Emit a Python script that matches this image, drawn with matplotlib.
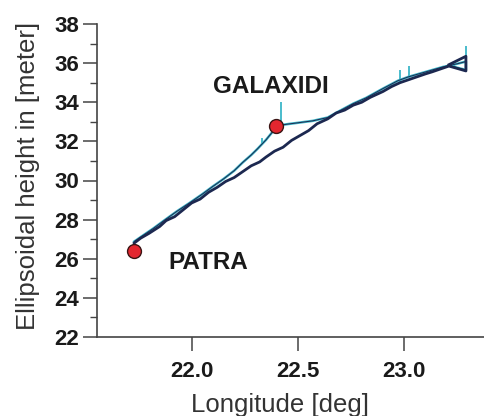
import numpy as np
import matplotlib
matplotlib.use("Agg")
import matplotlib.pyplot as plt
from matplotlib.ticker import MultipleLocator

plt.rcParams['font.family'] = ['Liberation Sans', 'DejaVu Sans']

# main track (dark), Patra straight to the east end, with the small loop at the end
track_a_lon = [21.73, 21.76, 21.80, 21.85, 21.88, 21.92, 21.96, 22.00, 22.04, 22.08,
               22.12, 22.16, 22.20, 22.24, 22.28, 22.32, 22.35, 22.39, 22.43, 22.47,
               22.51, 22.55, 22.59, 22.64, 22.68, 22.72, 22.76, 22.80, 22.84, 22.90,
               22.94, 22.98, 23.02, 23.06, 23.10, 23.13, 23.17, 23.21, 23.29, 23.29, 23.21]
track_a_h = [26.80, 27.05, 27.30, 27.65, 27.95, 28.15, 28.50, 28.85, 29.05, 29.40,
             29.65, 29.95, 30.15, 30.45, 30.75, 30.95, 31.20, 31.50, 31.70, 32.05,
             32.30, 32.55, 32.90, 33.15, 33.45, 33.60, 33.85, 34.00, 34.25, 34.55,
             34.80, 35.00, 35.15, 35.30, 35.45, 35.55, 35.70, 35.85, 35.60, 36.35, 35.92]

# second track (cyan), Patra -> Galaxidi -> joins main track
track_b_lon = [21.73, 21.77, 21.82, 21.87, 21.93, 21.99, 22.05, 22.10, 22.15, 22.20,
               22.24, 22.28, 22.31, 22.35, 22.38, 22.40, 22.45, 22.50, 22.57, 22.64,
               22.70, 22.76, 22.82, 22.90, 22.97, 23.02, 23.10, 23.18, 23.25, 23.29,
               23.29, 23.22]
track_b_h = [26.88, 27.18, 27.55, 27.95, 28.42, 28.85, 29.30, 29.70, 30.08, 30.50,
             30.92, 31.30, 31.62, 32.08, 32.48, 32.80, 32.88, 32.95, 33.05, 33.22,
             33.58, 33.93, 34.22, 34.70, 35.10, 35.30, 35.55, 35.80, 35.97, 36.08,
             35.65, 35.85]

# short spikes in the cyan track
spike_lon = [22.42, 22.98, 23.02, 23.29, 22.33]
spike_lo = [32.85, 35.05, 35.25, 36.00, 31.85]
spike_hi = [34.00, 35.65, 35.85, 36.85, 32.15]

stations = ['PATRA', 'GALAXIDI']
station_lon = [21.73, 22.395]
station_h = [26.41, 32.79]
label_lon = [21.89, 22.10]
label_h = [25.83, 34.79]

navy = '#1c2850'
cyan = '#3cb6c8'

fig = plt.figure(figsize=(4.84, 4.16), dpi=100)
ax = fig.add_axes([97 / 484, 79 / 416, 387 / 484, 313 / 416])

ax.plot(track_b_lon, track_b_h, color=cyan, lw=1.8, zorder=2)
ax.vlines(spike_lon, spike_lo, spike_hi, color=cyan, lw=1.3, zorder=2)
ax.plot(track_a_lon, track_a_h, color=navy, lw=2.0, zorder=3)
ax.plot(track_b_lon, track_b_h, color=navy, lw=0.7, zorder=3)
ax.plot(station_lon, station_h, 'o', ms=10, mfc='#e3262f', mec='#3a1414', mew=1.0, zorder=4)

for name, x, y in zip(stations, label_lon, label_h):
    ax.text(x, y, name, fontsize=17.5, fontweight='bold', color='#1a1a1a',
            ha='left', va='center')

ax.set_xlim(21.555, 23.375)
ax.set_ylim(22, 38)
ax.yaxis.set_major_locator(MultipleLocator(2))
ax.yaxis.set_minor_locator(MultipleLocator(1))
ax.set_xticks([22.0, 22.5, 23.0])
ax.xaxis.set_major_formatter(matplotlib.ticker.FormatStrFormatter('%.1f'))

for side in ['top', 'right']:
    ax.spines[side].set_visible(False)
for side in ['left', 'bottom']:
    ax.spines[side].set_color('#444444')
    ax.spines[side].set_linewidth(1.2)

ax.tick_params(which='major', direction='out', length=10, width=1.1, colors='#444444',
               labelcolor='#1a1a1a', labelsize=16, pad=3)
ax.tick_params(axis='x', which='major', pad=7.5)
ax.tick_params(which='minor', direction='out', length=5, width=1.0, colors='#444444')
for lab in ax.get_xticklabels() + ax.get_yticklabels():
    lab.set_fontweight('bold')

ax.set_xlabel('Longitude [deg]', fontsize=18.5, color='#333333', labelpad=8)
ax.set_ylabel('Ellipsoidal height in [meter]', fontsize=18.5, color='#333333', labelpad=10)
ax.xaxis.label.set_x(0.473)
ax.yaxis.label.set_y(0.513)

fig.savefig('out.png', dpi=100)
